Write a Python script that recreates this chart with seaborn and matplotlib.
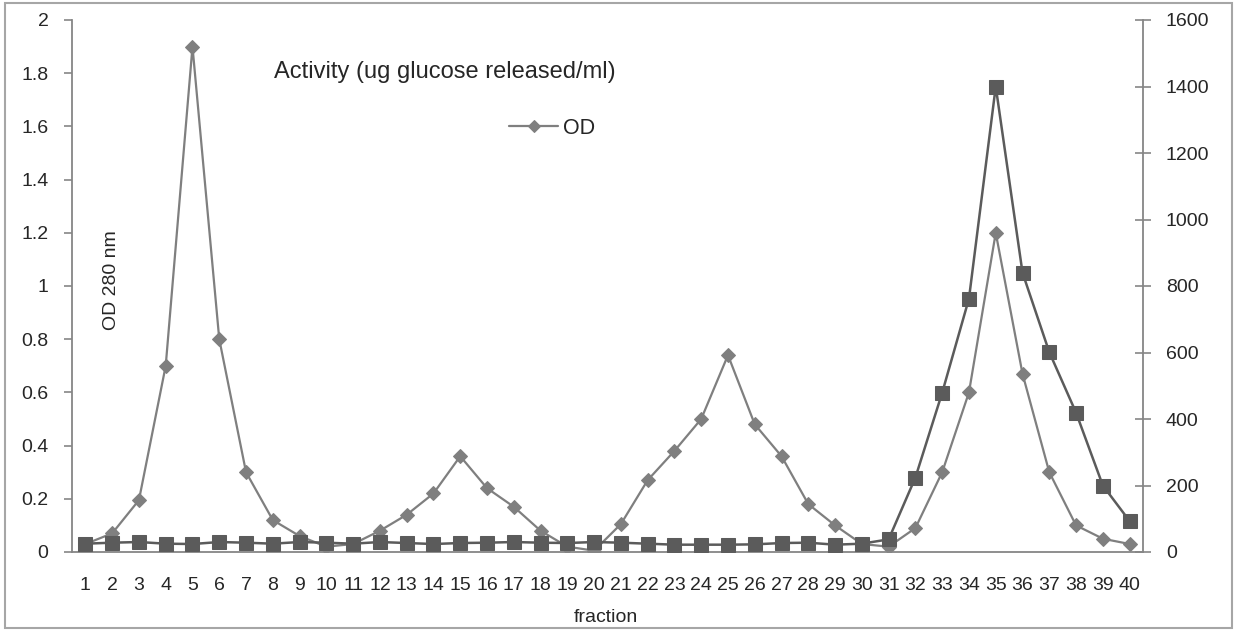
import matplotlib
matplotlib.use("Agg")
import matplotlib.pyplot as plt
import seaborn as sns
import pandas as pd
from matplotlib.patches import Rectangle

fractions = list(range(1, 41))
od = [0.03, 0.07, 0.195, 0.70, 1.90, 0.80, 0.30, 0.12, 0.06, 0.02,
      0.03, 0.08, 0.14, 0.22, 0.36, 0.24, 0.17, 0.08, 0.02, 0.005,
      0.105, 0.27, 0.38, 0.50, 0.74, 0.48, 0.36, 0.18, 0.10, 0.03,
      0.02, 0.09, 0.30, 0.60, 1.20, 0.67, 0.30, 0.10, 0.05, 0.03]
activity = [25, 28, 30, 25, 24, 30, 28, 25, 30, 28,
            25, 30, 27, 24, 27, 28, 30, 28, 27, 30,
            28, 25, 22, 22, 22, 23, 27, 28, 22, 25,
            38, 224, 479, 762, 1400, 840, 601, 419, 200, 93]
left_ticks = [0, 0.2, 0.4, 0.6, 0.8, 1, 1.2, 1.4, 1.6, 1.8, 2]
left_tick_labels = ["0", "0.2", "0.4", "0.6", "0.8", "1", "1.2", "1.4", "1.6", "1.8", "2"]
right_ticks = [0, 200, 400, 600, 800, 1000, 1200, 1400, 1600]

df = pd.DataFrame({"fraction": fractions, "OD": od, "Activity": activity})

sns.set_style("white")
plt.rcParams["font.family"] = ["Liberation Sans", "DejaVu Sans"]

W, H = 1235, 630
fig = plt.figure(figsize=(W / 100, H / 100), dpi=100)
ax = fig.add_axes([72 / W, (H - 552) / H, (1143 - 72) / W, (552 - 20) / H])
ax2 = ax.twinx()

axis_col = "#868686"
od_col = "#7f7f7f"
act_col = "#5b5b5b"

sns.lineplot(data=df, x="fraction", y="OD", ax=ax, color=od_col, marker="D",
             markersize=7.5, markeredgecolor=od_col, linewidth=1.6, label="OD")
sns.lineplot(data=df, x="fraction", y="Activity", ax=ax2, color=act_col, marker="s",
             markersize=10, markeredgecolor=act_col, linewidth=1.8, legend=False)

ax.set_xlim(0.5, 40.5)
ax.set_ylim(0, 2)
ax2.set_ylim(0, 1600)
ax.set_xticks(fractions)
ax.set_xticklabels([str(f) for f in fractions])
ax.set_yticks(left_ticks)
ax.set_yticklabels(left_tick_labels)
ax2.set_yticks(right_ticks)
ax2.set_yticklabels([str(t) for t in right_ticks])

for a in (ax, ax2):
    a.set_xlabel("")
    a.set_ylabel("")
    a.spines["top"].set_visible(False)
    for s in ("left", "right", "bottom"):
        a.spines[s].set_color(axis_col)
        a.spines[s].set_linewidth(1.3)
ax.spines["right"].set_visible(False)
ax2.spines["left"].set_visible(False)
ax2.spines["bottom"].set_visible(False)

ax.tick_params(axis="y", direction="out", length=6, width=1.2, color=axis_col,
               labelsize=14, pad=11, left=True)
ax.tick_params(axis="x", length=0, labelsize=14, pad=18, bottom=True)
ax2.tick_params(axis="y", direction="inout", length=11, width=1.2, color=axis_col,
                labelsize=14, pad=11, right=True)

ax.set_zorder(1)
ax2.set_zorder(2)
ax.patch.set_visible(False)

ax.text(0.037, 0.511, "OD 280 nm", transform=ax.transAxes, rotation=90,
        ha="center", va="center", fontsize=14)
fig.text(274 / W, 1 - 72 / H, "Activity (ug glucose released/ml)", ha="left",
         va="center", fontsize=17)
fig.text(606 / W, 1 - 618 / H, "fraction", ha="center", va="center", fontsize=14)

leg = ax.legend(loc="center left", bbox_to_anchor=(498 / W, 1 - 128 / H),
                bbox_transform=fig.transFigure, frameon=False, fontsize=15.5,
                handlelength=2.3, handletextpad=0.2, borderpad=0, markerscale=0.75)

fig.patches.append(Rectangle((5 / W, 2 / H), 1227 / W, 625 / H, transform=fig.transFigure,
                             fill=False, edgecolor="#a6a6a6", linewidth=1.5))

fig.savefig("out.png", dpi=100)
